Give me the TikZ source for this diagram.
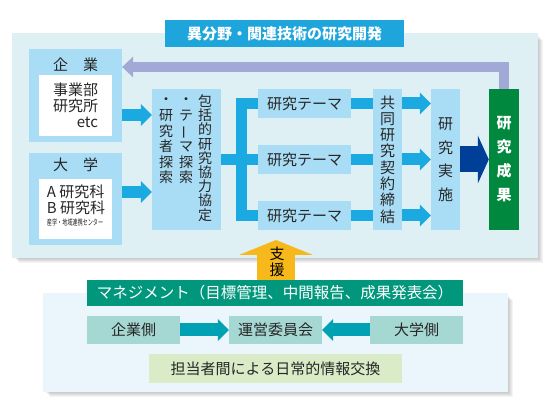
\documentclass[tikz,border=0pt]{standalone}
\usepackage{fontspec}
\setmainfont{Noto Sans CJK JP}
\usepackage{graphicx}
\usetikzlibrary{arrows.meta}

\definecolor{panelblue}{HTML}{DFF0F5}
\definecolor{titleblue}{HTML}{1EA5DC}
\definecolor{boxblue}{HTML}{A9DCF5}
\definecolor{arrowblue}{HTML}{1BA9E1}
\definecolor{darkblue}{HTML}{003F98}
\definecolor{resultgreen}{HTML}{00893E}
\definecolor{feedback}{HTML}{A3A9D6}
\definecolor{supportyellow}{HTML}{F6B81A}
\definecolor{mgmtpanel}{HTML}{EAF5FC}
\definecolor{mgmtgreen}{HTML}{00977C}
\definecolor{tealbox}{HTML}{A6D8D3}
\definecolor{tealarrow}{HTML}{00A1B3}
\definecolor{talkgreen}{HTML}{D9EBC7}
\definecolor{ink}{HTML}{262626}

% vertical long vowel mark
\newcommand{\tatebar}{\smash{\rotatebox[origin=c]{90}{ー}}}

\begin{document}
\begin{tikzpicture}[x=1pt,y=-1pt,
    fsize/.style 2 args={font=\fontsize{#1}{#2}\selectfont},
    lightbox/.style={fill=boxblue},
    sidebox/.style={lightbox, minimum width=93pt, minimum height=93pt},
    whitebox/.style={fill=white, minimum width=73pt, minimum height=61pt},
    themebox/.style={lightbox, minimum width=93pt, minimum height=29pt},
    tallbox/.style={lightbox, minimum width=29pt, minimum height=141pt},
    bar/.style={draw=arrowblue, line width=11pt},
    blockarrow/.style={draw=arrowblue, line width=12pt,
      -{Triangle[length=11pt,width=22pt,line width=0pt]}},
    sidebox2/.style={fill=tealbox, minimum width=93pt, minimum height=28pt},
    tealblock/.style={draw=tealarrow, line width=13pt,
      -{Triangle[length=11pt,width=22pt,line width=0pt]}}]
    \tikzstyle{every node}=[inner sep=0pt, text=ink, fsize={15}{16}]
    \useasboundingbox (0,0) rectangle (560,419);

    % upper panel
    \foreach \s in {1,...,5}
        \fill[black, opacity=0.045] (14+\s,35+\s) rectangle (538+\s,258+\s);
    \fill[panelblue] (12,33) rectangle (538,258);
    \node[fill=titleblue, text=white, minimum width=239pt, minimum height=27pt,
        font=\fontsize{15}{16}\selectfont\bfseries] (title) at (284.5,33.5)
        {異分野・関連技術の研究開発};

    \node[sidebox] (kigyo) at (75.5,95.5) {};
    \node (kigyolabel) at (75.5,65) {企　業};
    \node[whitebox] (kigyoin) at (75.5,105.5) {};
    \node[align=right] (kigyotext) at (75.5,105.5) {事業部\\研究所\\etc};

    \node[sidebox, minimum height=92pt] (daigaku) at (75.5,199) {};
    \node (daigakulabel) at (75.5,165) {大　学};
    \node[whitebox, minimum height=60pt] (daigakuin) at (75.5,209) {};
    \node[align=left] (daigakutext) at (76,206) {A 研究科\\B 研究科\\[-4pt]
        \scalebox{0.64}[1]{\fontsize{8}{8}\selectfont 産学・地域連携センター}};

    \node[lightbox, minimum width=69pt, minimum height=141pt] (hokatsu)
        at (186.5,159.5) {};
    \node[align=center, fsize={14}{14.2}] (hokatsu1) at (205,158)
        {包\\括\\的\\研\\究\\協\\力\\協\\定};
    \node[align=center, fsize={14}{15.6}] (hokatsu2) at (186,141)
        {・\\テ\\\tatebar\\マ\\探\\索};
    \node[align=center, fsize={14}{15.6}] (hokatsu3) at (166,141)
        {・\\研\\究\\者\\探\\索};

    \node[themebox] (theme1) at (304.5,103.5) {研究テーマ};
    \node[themebox] (theme2) at (304.5,159.5) {研究テーマ};
    \node[themebox] (theme3) at (304.5,215.5) {研究テーマ};

    \node[tallbox, align=center, fsize={15}{16.3}] (kyodo) at (387.5,159.5)
        {共\\同\\研\\究\\契\\約\\締\\結};
    \node[tallbox, align=center, fsize={15}{23.5}] (jisshi) at (445.5,159.5)
        {研\\究\\実\\施};
    \node[fill=resultgreen, text=white, minimum width=30pt, minimum height=141pt,
        align=center, font=\fontsize{15}{24}\selectfont\bfseries] (seika)
        at (504,159.5) {研\\究\\成\\果};

    % connectors
    \draw[blockarrow] ([yshift=-19.5pt]kigyo.east)
        -- ([yshift=-19.5pt]kigyo.east -| hokatsu.west);
    \draw[blockarrow] ([yshift=7pt]daigaku.east)
        -- ([yshift=7pt]daigaku.east -| hokatsu.west);

    \coordinate (brk) at (241.5,159.5);
    \draw[bar] (hokatsu.east) -- (theme2.west);
    \draw[bar] (theme1.west) -- (theme1.west -| brk) -- (theme3.west -| brk)
        -- (theme3.west);

    \draw[bar] (theme1.east) -- (theme1.east -| kyodo.west);
    \draw[bar] (theme2.east) -- (theme2.east -| kyodo.west);
    \draw[bar] (theme3.east) -- (theme3.east -| kyodo.west);

    \draw[blockarrow] (theme1.east -| kyodo.east) -- (theme1.east -| jisshi.west);
    \draw[blockarrow] (theme2.east -| kyodo.east) -- (theme2.east -| jisshi.west);
    \draw[blockarrow] (theme3.east -| kyodo.east) -- (theme3.east -| jisshi.west);

    \draw[draw=darkblue, line width=26pt,
        -{Triangle[length=11pt,width=48pt,line width=0pt]}]
        (jisshi.east) -- (seika.west);

    \coordinate (fbtop) at (504,67);
    \draw[draw=feedback, line width=10.5pt,
        -{Triangle[length=11pt,width=21pt,line width=0pt]}]
        (seika.north) -- (fbtop) -- (fbtop -| kigyo.east);

    % lower panel
    \foreach \s in {1,...,5}
        \fill[black, opacity=0.045] (45+\s,295+\s) rectangle (508+\s,392+\s);
    \fill[mgmtpanel] (43,293) rectangle (508,392);

    \node[fill=mgmtgreen, text=white, minimum width=376pt, minimum height=26pt,
        fsize={15.5}{16}] (mgmt) at (275,293)
        {マネジメント（目標管理、中間報告、成果発表会）};

    \coordinate (supptip) at (276,240);
    \draw[draw=supportyellow, line width=38pt,
        -{Triangle[length=15pt,width=74pt,line width=0pt]}]
        (mgmt.north -| supptip) -- (supptip);
    \node[align=center, text=black] (shien) at (277,261.5) {支\\援};

    \node[sidebox2] (kigyoside) at (133.5,330) {企業側};
    \node[sidebox2] (unei) at (275.5,330) {運営委員会};
    \node[sidebox2] (daigakuside) at (416.5,330) {大学側};
    \draw[tealblock] (kigyoside.east) -- (unei.west);
    \draw[tealblock] (daigakuside.west) -- (unei.east);

    \node[fill=talkgreen, minimum width=253pt, minimum height=29pt] (koukan)
        at (275.5,368.5) {担当者間による日常的情報交換};

\end{tikzpicture}
\end{document}
